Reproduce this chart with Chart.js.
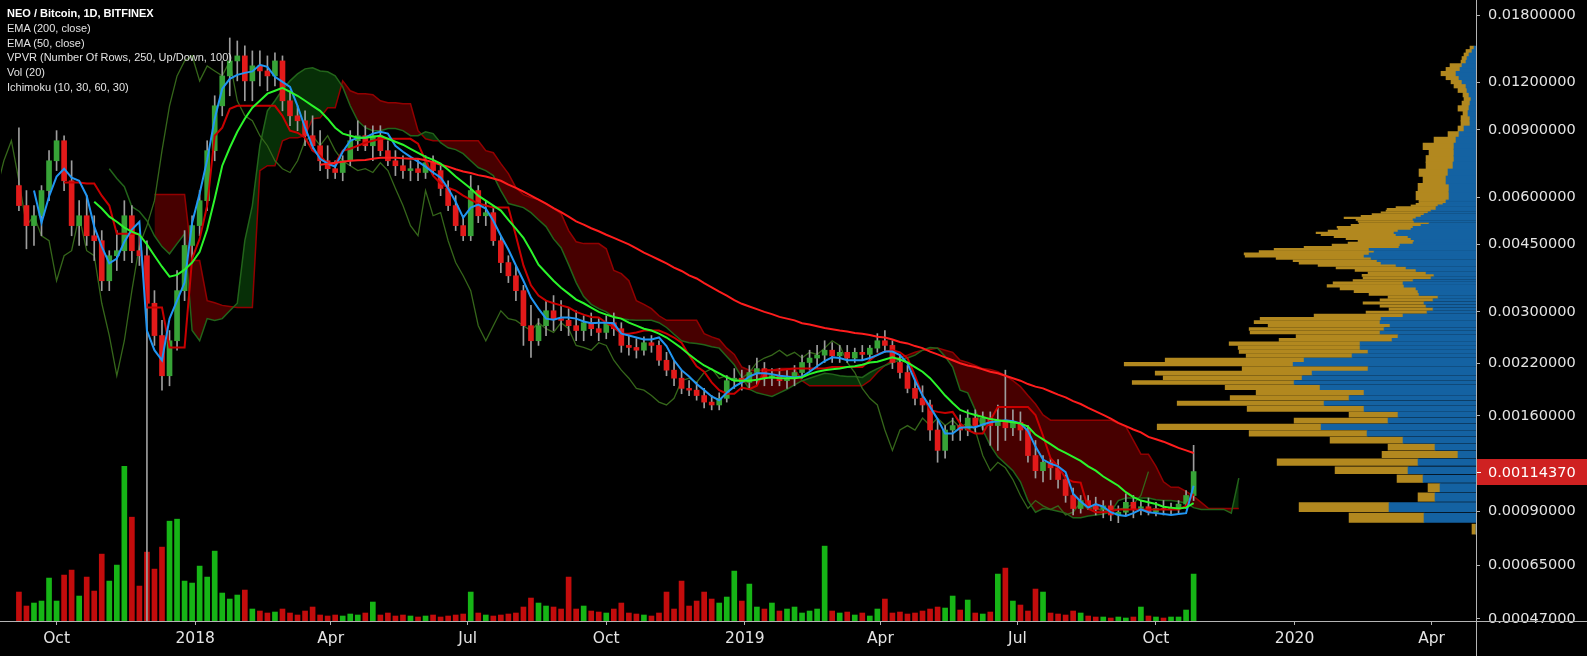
<!DOCTYPE html>
<html>
<head>
<meta charset="utf-8">
<title>NEO / Bitcoin, 1D, BITFINEX</title>
<script src="https://cdn.jsdelivr.net/npm/chart.js@4.4.1/dist/chart.umd.min.js"></script>
<style>
  html, body { margin: 0; padding: 0; background: #000; }
  #wrap { position: relative; width: 1587px; height: 656px; overflow: hidden; background: #000; }
  #legend {
    position: absolute; left: 7px; top: 6px;
    font: 11px "Liberation Sans", Arial, sans-serif; line-height: 14.8px;
    color: #e2e2e2; pointer-events: none; white-space: nowrap;
  }
  #legend .title { color: #fff; font-weight: bold; }
</style>
</head>
<body>
<div id="wrap">
  <canvas id="chart" width="1587" height="656"></canvas>
  <div id="legend">
    <div class="title">NEO / Bitcoin, 1D, BITFINEX</div>
    <div>EMA (200, close)</div>
    <div>EMA (50, close)</div>
    <div>VPVR (Number Of Rows, 250, Up/Down, 100)</div>
    <div>Vol (20)</div>
    <div>Ichimoku (10, 30, 60, 30)</div>
  </div>
</div>
<script>
(function() {
  'use strict';

  // ── Data ──
  // prices are in units of 0.00001 BTC, volumes in thousands of NEO
  const UNIT = 1e-5;
  const DAY = 864e5;
  const BAR_START = Date.UTC(2017, 8, 6) / DAY;   // first bar, 6 Sep 2017
  const BAR_DAYS = 5;                              // one bar = 5 days

  const OPEN = [
    643,570,505,536,624,747,843,662,505,536, 475,461,362,421,434,536,434,421,316,260,
    204,252,341,448,505,587,794,1041,1247,1365, 1407,1210,1325,1285,1247,1365,1073,980,951,869,
    818,747,712,696,747,843,869,818,869,794, 747,725,704,712,696,738,704,632,570,505,
    475,624,536,546,461,404,373,341,276,252, 276,302,288,285,276,268,281,271,265,281,
    271,245,242,238,249,245,224,211,201,189, 187,181,174,171,178,198,201,196,208,213,
    201,204,198,201,208,221,227,231,238,230, 235,227,235,232,241,252,245,221,208,189,
    178,171,147,130,147,151,147,158,151,158, 151,156,149,154,147,126,115,121,117,109,
    99,91.5,96,93,91,93,88,89.5,95,91, 92.5,89.5,91.5,91,92,94,99
  ];
  const HIGH = [
    912,624,570,643,794,896,869,747,587,605, 536,490,434,490,587,570,475,461,341,285,
    268,385,490,536,624,843,1106,1365,1568,1540, 1495,1450,1450,1407,1433,1407,1140,1041,1010,980,
    896,818,747,770,896,951,923,923,923,843, 794,770,747,756,770,770,725,662,605,536,
    683,643,587,570,475,421,397,352,312,288, 321,331,321,306,302,293,298,288,293,298,
    281,260,255,258,260,252,235,224,211,198, 196,189,181,184,204,213,211,217,227,221,
    213,213,211,217,231,238,245,252,249,245, 245,241,245,245,263,268,252,231,217,201,
    192,176,156,151,158,161,166,166,164,164, 171,211,166,164,151,138,126,124,123,112,
    103.5,99,99,98,96,96,93,100,99,96, 97.5,95,96,94.5,96,102,134
  ];
  const LOW = [
    553,439,448,475,587,704,624,475,448,448, 409,341,341,385,409,404,397,5,245,187,
    192,238,321,409,475,553,747,980,1106,1210, 1073,1073,1174,1140,1174,1010,923,896,818,794,
    704,671,671,662,725,794,794,747,770,725, 683,671,662,662,671,683,605,553,490,461,
    461,514,505,448,380,358,321,245,228,245, 260,268,268,260,252,252,260,252,255,260,
    235,231,227,231,235,217,204,192,183,181, 176,168,166,166,174,189,187,189,192,192,
    192,192,189,192,201,211,213,221,221,221, 221,221,224,224,235,235,213,201,184,171,
    164,138,121,124,138,138,142,145,147,134, 130,138,142,138,121,110,107.5,109,103.5,95,
    88,89,91,88,86.5,85,84,88,86.5,88, 88,87.5,88,88,88.5,91.5,96
  ];
  const CLOSE = [
    570,505,536,624,747,843,662,505,536,475, 461,362,421,434,536,434,421,316,260,204,
    252,341,448,505,587,794,1041,1247,1365,1407, 1210,1325,1285,1247,1365,1073,980,951,869,818,
    747,712,696,747,843,869,818,869,794,747, 725,704,712,696,738,704,632,570,505,475,
    624,536,546,461,404,373,341,276,252,276, 302,288,285,276,268,281,271,265,281,271,
    245,242,238,249,245,224,211,201,189,187, 181,174,171,178,198,201,196,208,213,201,
    204,198,201,208,221,227,231,238,230,235, 227,235,232,241,252,245,221,208,189,178,
    171,147,130,147,151,147,158,151,158,151, 156,149,154,147,126,115,121,117,109,99,
    91.5,96,93,91,93,88,89.5,95,91,92.5, 89.5,91.5,91,92,94,99,114.37
  ];
  const VOLUME = [
    29,15,18,20,43,20,46,51,25,44, 30,67,40,56,155,104,35,69,52,74,
    100,102,40,38,55,44,70,28,22,26, 31,12,10,8,9,12,8,6,10,14,
    6,5,6,5,7,6,8,19,6,8, 5,6,5,4,5,6,4,5,6,7,
    29,8,6,5,6,7,8,14,23,18, 15,14,12,44,12,15,10,9,8,12,
    18,8,7,6,5,8,29,12,40,15, 20,29,22,18,24,50,20,37,14,12,
    18,10,12,14,8,10,12,75,10,8, 9,6,8,5,12,22,8,9,7,8,
    10,12,14,13,25,11,21,8,7,9, 47,53,20,16,10,32,29,8,7,6,
    10,8,5,4,4,3,4,3,4,14, 5,4,3,4,4,11,47
  ];

  // moving averages, one value per bar starting at bar *_FROM
  const EMA200_FROM = 40;
  const EMA200 = [
    729,734,738,743,747,749,751,756,761,761, 761,758,756,756,749,740,729,721,710,700,
    694,685,679,671,662,647,634,620,605,591, 577,561,548,533,518,508,497,488,478,469,
    460,451,440,429,420,411,402,392,384,374, 367,357,348,339,331,322,315,310,305,300,
    296,291,288,285,280,278,275,272,270,268, 266.5,264,263,261,258,257,254,250,248,244,
    241,236,232,228,224,220,217,215,212,209, 207,204,201,198,194,191,189,185.5,182,179,
    175,172,168,164.5,161,157.5,153.5,150.5,147.5,145, 141,139,137,134.5,132,130,128
  ];
  const EMA50_FROM = 10;
  const EMA50 = [
    583,560,533,517,499,487,478,451,421,394, 371,375,387,404,431,493,594,725,808,890,
    963,1029,1073,1120,1140,1160,1133,1106,1073,1041, 1010,963,912,880,869,859,859,864,869,853,
    838,823,803,784,765,751,734,708,679,655, 632,605,587,570,553,523,496,469,434,399,
    380,362,347,335,323,316,308,300,295,291, 288,281,276,271,268,263,257,249,241,232,
    224,217,212,207,202,198,198,198,199,201, 202,201,201,201,202,206,209,211,212,213,
    215,216,218,221,222,225,228,225,221,215, 209,201,191,181,173,166,163,161,159,157,
    156,155,154,153,150,143,139,135,131,128, 125,122,118,115,111,108,105,101,98,96,
    95,94,92.5,92,91.5,92,94.5
  ];

  // Ichimoku (10, 30, 60, 30)
  const TENKAN_FROM = 2;
  const TENKAN = [
    624,514,602,679,712,675,662,605,
    502,445,402,414,458,493,517,268,238,224, 288,321,358,514,613,751,963,1154,1225,1255,
    1270,1281,1333,1317,1240,1203,1167,1041,912,813, 756,734,721,789,843,859,859,880,890,880,
    818,789,765,743,721,696,675,632,583,530, 563,573,560,520,475,437,397,362,327,306,
    288,286,290,290,288,283,280,281,281,280, 263,260,257,254,254,257,244,224,211,203,
    194,187,180,176,184,191,196,203,207,207, 206,204,203,202,203,209,216,223,228,227,
    224,224,224,227,231,236,236,231,220,198, 181,169,157,144,144,149,149.5,149.5,152,154,
    155,156,155,153,146,133,123,120,118,114, 100,95.5,92,94,92.5,89.5,88,87.5,89,91,
    89.5,89,88.5,88,88.5,89,105
  ];
  const KIJUN_FROM = 6;
  const KIJUN = [
    655,655,655,651,
    651,605,570,481,481,481,481,308,308,308, 242,242,242,414,466,570,869,912,1022,1041,
    1041,1041,1041,1041,1041,980,896,885,859,794, 770,734,734,794,803,818,833,843,853,853,
    853,853,853,828,747,683,651,635,624,605, 591,577,570,563,563,563,475,397,352,331,
    321,316,312,308,300,295,291,290,281,273, 263,263,265,268,268,268,263,257,249,231,
    216,209,196,187,183,183,190,188,192,211, 211,211,212,213,213,213,213,213,215,215,
    215,215,215,224,232,236,238,235,227,204, 181,166,164,163,164,153,147,144,144,156,
    169,169,169,169,169,161,142,124,118,110, 107.5,107,91.5,89.5,89.5,90,91,91,91,91,
    91,91,91,91,91,93,100
  ];
  const SPAN_A_FROM = 12;   // leading spans run 30 days past the last bar
  const SPAN_A = [
    712,671,639,566,550,520,475,445,
    426,453,481,268,252,288,285,288,302,316, 461,570,818,1010,1073,1147,1210,1262,1301,1309,
    1285,1278,1247,1167,1041,951,912,896,896,907, 907,896,869,869,890,880,833,808,799,780,
    747,717,704,683,624,577,570,563,546,523, 502,466,442,399,358,329,314,306,300,290,
    288,286,285,285,285,281,273,262,252,249, 248,246,243,241,229,218,202,188,184,182,
    180,184,188,193,198,201,204,207,206,204, 203,203,202,208,213,217,221,224,227,231,
    238,242,241,229,215,187,184,166,147,134, 125,120,115,107.5,96,89.5,91.5,91,90,89,
    86.5,86.5,87.5,88,88.5,89.5,96,97.5,97.5,97.5, 97.5,96.5,96,96,95.5,94.5,92,91,91,91,
    91,89,110
  ];
  const SPAN_B_FROM = 18;
  const SPAN_B = [
    609,609,609,609,609,409,409,321,317,312, 310,308,308,308,704,725,725,843,859,859,
    869,963,968,1029,1029,1210,1140,1120,1120,1113, 1073,1060,1060,1054,1054,896,853,843,843,843,
    843,843,843,843,794,784,734,691,635,609, 598,591,577,560,543,490,458,453,453,453,
    439,385,378,362,321,314,306,293,285,285, 285,285,285,263,258,254,241,232,215,211,
    211,211,211,213,213,213,198,192,192,192, 192,192,192,192,192,198,208,217,224,228,
    231,235,238,239,241,238,235,224,221,217, 213,212,209,204,198,191,181,172,161,156,
    156,156,156,156,156,156,156,156,153,150, 138,127,127,118,107.5,104,104,101.5,98.5,95,
    91.5,91.5,91.5,91.5,91.5
  ];
  const CHIKOU_DAYS = 30;   // lagging span = close plotted 30 days back

  // volume profile rows (price in BTC, volumes in thousands of NEO)
  const VP_LOW_START = 0.000808, VP_LOW_STEP = 0.0000575;
  const VP_LOW_UP = [
    0, 52,87,41,36,53,68,58,18,41,73, 109,155,88,78,112,152,127,112,156,182,
    174,164,108,183,172,124,108,116,116,84, 78,96,92,86,96,95,73,49,43,50,
    52,43,38,57,58,60,72,73,63,45, 42,50,60,70,80,95,99,105,112,107,
    102,107,77,76,63,62,65,68,80,82, 78,65,63,55,47,62,63,60,55,52,
    48,45,40,40,38,33,30,30
  ];
  const VP_LOW_DOWN = [
    4, 75,90,17,12,26,73,141,76,47,73, 118,164,94,49,117,147,119,108,95,162,
    139,157,126,169,139,106,129,122,131,113, 102,130,135,122,126,121,89,61,44,46,
    61,53,50,50,64,76,77,70,60,68, 72,58,61,70,78,82,84,95,119,125,
    115,95,95,68,65,56,65,74,75,78, 70,73,76,70,70,56,57,72,60,52,
    47,45,49,40,27,27,27,27
  ];
  const VP_HIGH_START = 0.00605, VP_HIGH_STEP = 0.0003;
  const VP_HIGH_UP = [27,27,30,28,23,22,22,22,20,17,12,6,6,8,7,6,5,7,9,10,14,17,20,16,14,10,9,7,4,2];
  const VP_HIGH_DOWN = [33,31,23,29,27,28,25,31,22,11,6,9,9,5,11,8,7,6,9,12,11,13,15,14,12,5,5,5,6,4];

  // axes
  const X_TICK_DATES = ['2017-10-01','2018-01-01','2018-04-01','2018-07-01','2018-10-01','2019-01-01',
                        '2019-04-01','2019-07-01','2019-10-01','2020-01-01','2020-04-01'];
  const X_TICK_LABELS = ['Oct','2018','Apr','Jul','Oct','2019','Apr','Jul','Oct','2020','Apr'];
  const Y_TICKS = [0.00047, 0.00065, 0.0009, 0.0016, 0.0022, 0.003, 0.0045, 0.006, 0.009, 0.012, 0.018];
  const Y_MIN = 0.000464, Y_MAX = 0.0196;

  // ── Styles ──
  const C = {
    text: '#e4e4e4', axis: '#b4b4b4',
    up: '#37a337', down: '#e21a1a', wick: '#9d9d9d',
    volUp: '#16b516', volDown: '#c30c0c',
    ema200: '#ff1d1d', ema50: '#2bf52b',
    tenkan: '#2196f3', kijun: '#c80000', chikou: '#35661a',
    spanA: '#22641a', spanB: '#920000', cloudRed: '#470000', cloudGreen: '#072f07',
    vpUp: '#1462a2', vpDown: '#b2881f'
  };
  const FONT = '"DejaVu Sans", Verdana, sans-serif';

  // ── Helpers ──
  function $(id) { return document.getElementById(id); }
  function barDay(i) { return BAR_START + i * BAR_DAYS; }
  function dayOf(s) { return Date.parse(s) / DAY; }
  function rising(i) { return CLOSE[i] >= OPEN[i]; }

  function line(values, from, shift) {
    return values.map(function(v, k) {
      return { x: barDay(from + k) - (shift || 0), y: v * UNIT };
    });
  }
  function lineSet(label, data, color, width, order) {
    return {
      type: 'line', label: label, data: data, xAxisID: 'x', yAxisID: 'y',
      borderColor: color, borderWidth: width, pointRadius: 0, fill: false, order: order
    };
  }
  function vpSet(data, color, thickness) {
    return {
      type: 'bar', label: 'VPVR', data: data, indexAxis: 'y', xAxisID: 'xVP', yAxisID: 'yVP',
      stack: 'vp', grouped: false, barThickness: thickness,
      backgroundColor: color, order: 40
    };
  }

  // Profile rows are equal steps in price, so on the log axis each row has its
  // own height. Rows are grouped by the height the price scale gives them, one
  // bar dataset per height; up volume (blue) stacks first, down volume (gold) after.
  function profileSets(chart) {
    var s = chart.scales.yVP;
    var groups = {}, keys = [];
    function add(start, step, ups, downs, fit) {
      ups.forEach(function(u, k) {
        var p = start + k * step;
        var band = s.getPixelForValue(p - step / 2) - s.getPixelForValue(p + step / 2);
        var t = String(Math.max(1, Math.round(fit(band) * 2) / 2));
        if (!groups[t]) { groups[t] = { up: [], down: [] }; keys.push(t); }
        groups[t].up.push({ x: u, y: p });
        groups[t].down.push({ x: downs[k], y: p });
      });
    }
    add(VP_LOW_START, VP_LOW_STEP, VP_LOW_UP, VP_LOW_DOWN, function(b) { return b * 0.85; });
    add(VP_HIGH_START, VP_HIGH_STEP, VP_HIGH_UP, VP_HIGH_DOWN, function(b) { return b + 0.5; });
    var ups = keys.map(function(t) { return vpSet(groups[t].up, C.vpUp, +t); });
    var downs = keys.map(function(t) { return vpSet(groups[t].down, C.vpDown, +t); });
    return ups.concat(downs);
  }

  // ── Datasets ──
  var spanA = lineSet('Lead 1', line(SPAN_A, SPAN_A_FROM), C.spanA, 1.5, 20);
  var spanB = lineSet('Lead 2', line(SPAN_B, SPAN_B_FROM), C.spanB, 1.5, 21);

  var datasets = [
    lineSet('EMA 50', line(EMA50, EMA50_FROM), C.ema50, 2, 1),
    lineSet('EMA 200', line(EMA200, EMA200_FROM), C.ema200, 2, 2),
    lineSet('Conversion', line(TENKAN, TENKAN_FROM), C.tenkan, 2, 3),
    lineSet('Base', line(KIJUN, KIJUN_FROM), C.kijun, 2, 4),
    {
      type: 'bar', label: 'Body', xAxisID: 'x', yAxisID: 'y', grouped: false, barThickness: 5, order: 5,
      data: OPEN.map(function(o, i) { return { x: barDay(i), y: [o * UNIT, CLOSE[i] * UNIT] }; }),
      backgroundColor: function(ctx) { return rising(ctx.dataIndex) ? C.up : C.down; }
    },
    {
      type: 'bar', label: 'Wick', xAxisID: 'x', yAxisID: 'y', grouped: false, barThickness: 1, order: 6,
      data: LOW.map(function(l, i) { return { x: barDay(i), y: [l * UNIT, HIGH[i] * UNIT] }; }),
      backgroundColor: C.wick
    },
    lineSet('Lagging', line(CLOSE, 0, CHIKOU_DAYS), C.chikou, 1.3, 10),
    spanA,
    spanB,
    {
      type: 'bar', label: 'Volume', xAxisID: 'x', yAxisID: 'yVol', grouped: false, barThickness: 5, order: 30,
      data: VOLUME.map(function(v, i) { return { x: barDay(i), y: v }; }),
      backgroundColor: function(ctx) { return rising(ctx.dataIndex) ? C.volUp : C.volDown; }
    }
  ];
  // cloud: red where Lead 2 is above Lead 1, green where below
  spanB.fill = { target: datasets.indexOf(spanA), above: C.cloudRed, below: C.cloudGreen };

  // ── Axis frame + last price tag ──
  var frame = {
    id: 'frame',
    afterDraw: function(chart) {
      var ctx = chart.ctx, a = chart.chartArea;
      ctx.save();
      ctx.strokeStyle = C.axis;
      ctx.lineWidth = 1;
      ctx.beginPath();
      ctx.moveTo(0, a.bottom + 0.5); ctx.lineTo(chart.width, a.bottom + 0.5);
      ctx.moveTo(a.right + 0.5, 0); ctx.lineTo(a.right + 0.5, chart.height);
      ctx.stroke();

      var last = CLOSE[CLOSE.length - 1] * UNIT;
      var py = Math.round(chart.scales.y.getPixelForValue(last));
      ctx.fillStyle = '#cf2121';
      ctx.fillRect(a.right + 1, py - 13, chart.width - a.right - 1, 26);
      ctx.fillStyle = '#ffffff';
      ctx.fillRect(a.right + 1, py, 4, 1);
      ctx.font = '14.5px ' + FONT;
      ctx.textBaseline = 'middle';
      ctx.fillText(last.toFixed(8), a.right + 12, py + 1);
      ctx.restore();
    }
  };

  function noPad(s) { s.paddingTop = 0; s.paddingBottom = 0; s.paddingLeft = 0; s.paddingRight = 0; }

  var chart = new Chart($('chart'), {
    type: 'bar',
    data: { datasets: datasets },
    plugins: [frame],
    options: {
      responsive: false,
      animation: false,
      devicePixelRatio: 1,
      events: [],
      layout: { padding: 0 },
      plugins: { legend: { display: false }, tooltip: { enabled: false } },
      scales: {
        x: {
          type: 'linear', position: 'bottom', offset: false,
          min: BAR_START - 11.9, max: BAR_START + 967.5,
          grid: { drawOnChartArea: false, drawTicks: true, tickLength: 4, color: C.axis, offset: false },
          border: { display: true, color: C.axis },
          ticks: {
            autoSkip: false, maxRotation: 0, padding: 5, color: C.text,
            font: { family: FONT, size: 15.5 },
            callback: function(v, i) { return X_TICK_LABELS[i]; }
          },
          afterBuildTicks: function(s) { s.ticks = X_TICK_DATES.map(function(d) { return { value: dayOf(d) }; }); },
          afterFit: function(s) { s.height = 35; noPad(s); }
        },
        y: {
          type: 'logarithmic', position: 'right', offset: false,
          min: Y_MIN, max: Y_MAX,
          grid: { drawOnChartArea: false, drawTicks: true, tickLength: 4, color: C.axis, offset: false },
          border: { display: true, color: C.axis },
          ticks: {
            autoSkip: false, padding: 8, color: C.text,
            font: { family: FONT, size: 14.5 },
            callback: function(v) { return Number(v).toFixed(8); }
          },
          afterBuildTicks: function(s) { s.ticks = Y_TICKS.map(function(v) { return { value: v }; }); },
          afterFit: function(s) { s.width = 111; noPad(s); }
        },
        // hidden twin of the price axis for the volume profile rows
        yVP: {
          type: 'logarithmic', axis: 'y', position: 'right', display: false,
          min: Y_MIN, max: Y_MAX, offset: false, grid: { offset: false }
        },
        yVol: { type: 'linear', axis: 'y', position: 'left', display: false, min: 0, max: 621, offset: false },
        xVP: {
          type: 'linear', axis: 'x', position: 'bottom', display: false,
          reverse: true, stacked: true, min: 0, max: 1476, offset: false
        }
      }
    }
  });

  // ── Volume profile (needs the laid-out price scale) ──
  Array.prototype.push.apply(chart.data.datasets, profileSets(chart));
  chart.update();
})();
</script>
</body>
</html>
